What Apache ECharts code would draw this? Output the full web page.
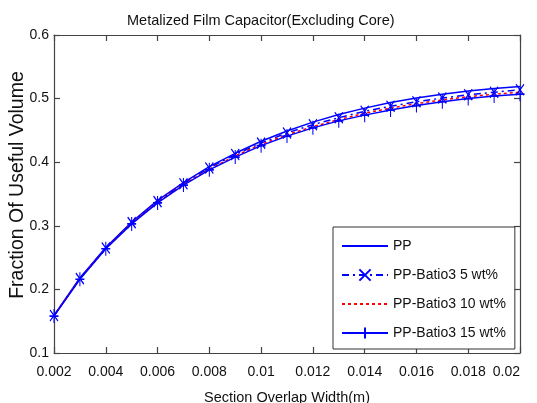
<!DOCTYPE html>
<html>
<head>
<meta charset="utf-8">
<script src="https://cdn.jsdelivr.net/npm/echarts@6/dist/echarts.min.js"></script>
<style>
  html, body { margin: 0; padding: 0; background: #fff; }
  #chart { width: 537px; height: 403px; }
</style>
</head>
<body>
<div id="chart"></div>
<script>
// Section overlap width (m)
const overlapWidth = [0.002, 0.003, 0.004, 0.005, 0.006, 0.007, 0.008, 0.009, 0.010, 0.011,
                      0.012, 0.013, 0.014, 0.015, 0.016, 0.017, 0.018, 0.019, 0.020];

// Fraction of useful volume for each dielectric
const ppValues    = [0.159, 0.218, 0.266, 0.306, 0.340, 0.368, 0.393, 0.414, 0.433, 0.449,
                     0.463, 0.475, 0.485, 0.494, 0.501, 0.507, 0.512, 0.516, 0.519];
const bt5Values   = [0.159, 0.217, 0.265, 0.305, 0.338, 0.366, 0.391, 0.412, 0.430, 0.446,
                     0.459, 0.470, 0.480, 0.488, 0.495, 0.501, 0.506, 0.510, 0.514];
const bt10Values  = [0.159, 0.217, 0.264, 0.304, 0.337, 0.365, 0.389, 0.410, 0.428, 0.443,
                     0.456, 0.467, 0.477, 0.485, 0.492, 0.498, 0.503, 0.507, 0.510];
const bt15Values  = [0.158, 0.216, 0.264, 0.303, 0.336, 0.364, 0.388, 0.408, 0.426, 0.441,
                     0.454, 0.465, 0.474, 0.482, 0.489, 0.495, 0.500, 0.504, 0.507];

const seriesNames = ['PP', 'PP-Batio3 5 wt%', 'PP-Batio3 10 wt%', 'PP-Batio3 15 wt%'];

const FONT = "'Liberation Sans', Arial, sans-serif";
const AXIS_COLOR = '#444';
const TEXT_COLOR = '#111';
const BLUE = '#0000ff';
const RED = '#ff0000';

const pairs = vals => overlapWidth.map((x, i) => [x, vals[i]]);

const xMarker = 'path://M0,0L1,1M1,0L0,1';
const plusMarker = 'path://M0.5,0L0.5,1M0,0.5L1,0.5';
// invisible marker so plain lines show no symbol in the legend
const noMarker = 'path://M0,0L1,1';
const hiddenItem = { color: 'rgba(0,0,0,0)', borderColor: 'rgba(0,0,0,0)', borderWidth: 0 };

const boxAxis = {
  splitLine: { show: false },
  axisLine: { show: true, lineStyle: { color: AXIS_COLOR, width: 1.2 } },
  axisTick: { show: true, inside: true, length: 6, lineStyle: { color: AXIS_COLOR, width: 1.2 } }
};

const chart = echarts.init(document.getElementById('chart'), null, { renderer: 'canvas' });

chart.setOption({
  animation: false,
  backgroundColor: '#ffffff',
  title: {
    text: 'Metalized Film Capacitor(Excluding Core)',
    left: 127,
    top: 13,
    padding: 0,
    textStyle: { fontFamily: FONT, fontSize: 14.5, fontWeight: 'normal', color: TEXT_COLOR }
  },
  grid: { left: 54, right: 17, top: 35, bottom: 50, containLabel: false, outerBoundsMode: 'none' },
  legend: {
    orient: 'vertical',
    left: 333,
    top: 227,
    padding: [12, 9, 9, 8],
    itemGap: 15,
    itemWidth: 46,
    itemHeight: 14,
    borderColor: '#333',
    borderWidth: 1,
    borderRadius: 0,
    backgroundColor: '#fff',
    textStyle: { fontFamily: FONT, fontSize: 14, color: TEXT_COLOR },
    data: seriesNames
  },
  xAxis: [
    Object.assign({
      type: 'value',
      min: 0.002, max: 0.02, interval: 0.002,
      position: 'bottom',
      name: 'Section Overlap Width(m)',
      nameLocation: 'middle',
      nameGap: 37,
      nameTextStyle: { fontFamily: FONT, fontSize: 14.5, color: TEXT_COLOR },
      axisLabel: { fontFamily: FONT, fontSize: 14, color: TEXT_COLOR, margin: 12, alignMaxLabel: 'right' }
    }, boxAxis),
    Object.assign({
      type: 'value',
      min: 0.002, max: 0.02, interval: 0.002,
      position: 'top',
      axisLabel: { show: false }
    }, boxAxis)
  ],
  yAxis: [
    Object.assign({
      type: 'value',
      min: 0.1, max: 0.6, interval: 0.1,
      position: 'left',
      name: 'Fraction Of Useful Volume',
      nameLocation: 'middle',
      nameGap: 26,
      nameMoveOverlap: false,
      nameTextStyle: { fontFamily: FONT, fontSize: 19.5, color: TEXT_COLOR, padding: [0, 0, 0, 18] },
      axisLabel: { fontFamily: FONT, fontSize: 14, color: TEXT_COLOR, margin: 5 }
    }, boxAxis),
    Object.assign({
      type: 'value',
      min: 0.1, max: 0.6, interval: 0.1,
      position: 'right',
      axisLabel: { show: false }
    }, boxAxis)
  ],
  series: [
    {
      name: seriesNames[0],
      type: 'line',
      data: pairs(ppValues),
      symbol: noMarker,
      showSymbol: false,
      lineStyle: { color: BLUE, width: 1.5, type: 'solid' },
      itemStyle: hiddenItem
    },
    {
      name: seriesNames[1],
      type: 'line',
      data: pairs(bt5Values),
      symbol: xMarker,
      symbolSize: [8, 11],
      lineStyle: { color: BLUE, width: 1.5, type: [7, 4, 2, 4] },
      itemStyle: { color: BLUE, borderColor: BLUE, borderWidth: 1.3 }
    },
    {
      name: seriesNames[2],
      type: 'line',
      data: pairs(bt10Values),
      symbol: noMarker,
      showSymbol: false,
      lineStyle: { color: RED, width: 1.5, type: [3, 3] },
      itemStyle: hiddenItem
    },
    {
      name: seriesNames[3],
      type: 'line',
      data: pairs(bt15Values),
      symbol: plusMarker,
      symbolSize: [9, 14],
      lineStyle: { color: BLUE, width: 1.5, type: 'solid' },
      itemStyle: { color: BLUE, borderColor: BLUE, borderWidth: 1.3 }
    }
  ]
});
</script>
</body>
</html>
